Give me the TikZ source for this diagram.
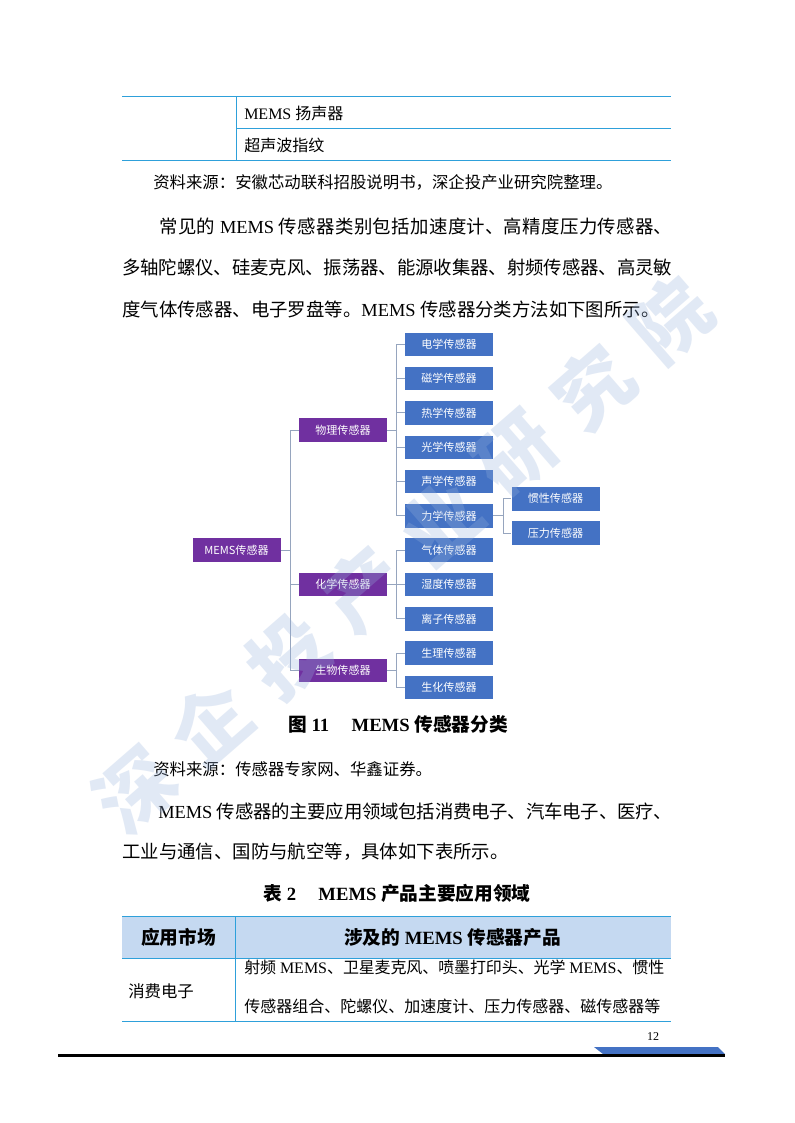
\documentclass[tikz,border=0pt]{standalone}
\usepackage{fontspec}
\setmainfont{Liberation Serif}
\newfontfamily\zhf{Noto Sans CJK SC}
\newcommand\zh[1]{{\zhf #1}}
\newlength\px
\setlength\px{0.75pt}
\newcommand\jl[2]{\parbox{#1}{\tolerance=10000\XeTeXlinebreaklocale "zh"\XeTeXlinebreakskip=0pt plus 4pt minus 1pt\parfillskip=0pt\relax #2}}
\definecolor{tblline}{RGB}{46,160,218}
\definecolor{hdrfill}{RGB}{197,217,241}
\definecolor{purp}{RGB}{112,48,160}
\definecolor{bluebox}{RGB}{68,114,196}
\definecolor{connc}{RGB}{150,165,190}
\definecolor{wm}{RGB}{150,178,220}
\definecolor{foot}{RGB}{68,114,196}
\tikzset{
  body/.style={anchor=west, inner sep=0pt, font=\fontsize{13.8}{16}\selectfont},
  small/.style={anchor=west, inner sep=0pt, font=\fontsize{12.3}{14}\selectfont},
  capt/.style={inner sep=0pt, font=\bfseries\fontsize{14}{16}\selectfont},
  pbox/.style={fill=purp, text=white, minimum width=66pt, minimum height=17.7pt, inner sep=0pt, font=\zhf\fontsize{8.3}{9}\selectfont},
  bbox/.style={fill=bluebox, text=white, minimum width=66pt, minimum height=17.7pt, inner sep=0pt, font=\zhf\fontsize{8.3}{9}\selectfont},
  conn/.style={draw=connc, line width=0.75pt},
  tline/.style={draw=tblline, line width=0.75pt},
  wmk/.style={text=wm, opacity=0.28, rotate=41, inner sep=0pt, font=\zhf\bfseries\fontsize{58}{58}\selectfont}
}
\begin{document}
\begin{tikzpicture}[x=0.75pt,y=-0.75pt]
\fill[white] (0,0) rectangle (794,1123);
\useasboundingbox (0,0) rectangle (794,1123);

% ---------- table 1 (continued) ----------
\draw[tline] (122,97) -- (670.7,97);
\draw[tline] (236,128.3) -- (670.7,128.3);
\draw[tline] (122,160.3) -- (670.7,160.3);
\draw[tline] (236,97) -- (236,160.3);
\node[small, font=\fontsize{12}{14}\selectfont] (t1a) at (244,113) {MEMS \zh{扬声器}};
\node[small, font=\fontsize{12}{14}\selectfont] (t1b) at (244,145) {\zh{超声波指纹}};
\node[small] (src1) at (153,182) {\zh{资料来源：安徽芯动联科招股说明书，深企投产业研究院整理。}};

% ---------- paragraph 1 ----------
\node[body] (p1a) at (159,226) {\jl{513\px}{\zh{常见的} MEMS \zh{传感器类别包括加速度计、高精度压力传感器、}}};
\node[body] (p1b) at (122,268) {\jl{550\px}{\zh{多轴陀螺仪、硅麦克风、振荡器、能源收集器、射频传感器、高灵敏}}};
\node[body] (p1c) at (122,309) {\zh{度气体传感器、电子罗盘等。}MEMS \zh{传感器分类方法如下图所示。}};

% ---------- diagram ----------
\node[pbox] (mems) at (236.5,550) {MEMS传感器};
\node[pbox] (phys) at (343,430.1) {物理传感器};
\node[pbox] (chem) at (343,584.5) {化学传感器};
\node[pbox] (bio) at (343,670.4) {生物传感器};
\node[bbox] (e1) at (449,344.3) {电学传感器};
\node[bbox] (e2) at (449,378.6) {磁学传感器};
\node[bbox] (e3) at (449,412.9) {热学传感器};
\node[bbox] (e4) at (449,447.3) {光学传感器};
\node[bbox] (e5) at (449,481.6) {声学传感器};
\node[bbox] (e6) at (449,515.9) {力学传感器};
\node[bbox] (c1) at (449,550.2) {气体传感器};
\node[bbox] (c2) at (449,584.5) {湿度传感器};
\node[bbox] (c3) at (449,618.9) {离子传感器};
\node[bbox] (b1) at (449,653.2) {生理传感器};
\node[bbox] (b2) at (449,687.5) {生化传感器};
\node[bbox] (m1) at (555.5,498.7) {惯性传感器};
\node[bbox] (m2) at (555.5,533.1) {压力传感器};
\foreach \c in {phys,chem,bio} \draw[conn] (mems.east) -- ++(10,0) |- (\c.west);
\foreach \c in {e1,e2,e3,e4,e5,e6} \draw[conn] (phys.east) -- ++(9,0) |- (\c.west);
\foreach \c in {c1,c2,c3} \draw[conn] (chem.east) -- ++(9,0) |- (\c.west);
\foreach \c in {b1,b2} \draw[conn] (bio.east) -- ++(9,0) |- (\c.west);
\foreach \c in {m1,m2} \draw[conn] (e6.east) -- ++(10,0) |- (\c.west);

% ---------- caption, source, paragraph 2 ----------
\node[capt] (fig) at (398,724) {\zh{图} 11\hspace{1.2em}MEMS \zh{传感器分类}};
\node[small] (src2) at (153,769) {\zh{资料来源：传感器专家网、华鑫证券。}};
\node[body] (p2a) at (158,811) {\jl{514\px}{MEMS \zh{传感器的主要应用领域包括消费电子、汽车电子、医疗、}}};
\node[body] (p2b) at (122,852) {\zh{工业与通信、国防与航空等，具体如下表所示。}};
\node[capt] (tab) at (397,893) {\zh{表} 2\hspace{1.2em}MEMS \zh{产品主要应用领域}};

% ---------- table 2 ----------
\fill[hdrfill] (122,916.7) rectangle (670.7,958.3);
\draw[tline] (122,916.7) -- (670.7,916.7);
\draw[tline] (122,958.3) -- (670.7,958.3);
\draw[tline] (122,1021.3) -- (670.7,1021.3);
\draw[tline] (235,916.7) -- (235,1021.3);
\node[capt] (h1) at (178.5,937.5) {\zh{应用市场}};
\node[capt] (h2) at (452.5,937.5) {\zh{涉及的} MEMS \zh{传感器产品}};
\node[small] (r1) at (128,991.5) {\zh{消费电子}};
\node[small, font=\fontsize{12}{14}\selectfont] (r2a) at (244,967) {\jl{420\px}{\zh{射频} MEMS\zh{、卫星麦克风、喷墨打印头、光学} MEMS\zh{、惯性}}};
\node[small, font=\fontsize{12}{14}\selectfont] (r2b) at (244,1006) {\jl{416\px}{\zh{传感器组合、陀螺仪、加速度计、压力传感器、磁传感器等}}};

% ---------- footer ----------
\fill[foot] (594,1047) -- (718,1047) -- (725,1054) -- (603,1054) -- cycle;
\draw[line width=2.6pt] (58,1055.5) -- (725,1055.5);
\node[inner sep=0pt, font=\fontsize{9}{10}\selectfont] (pg) at (653,1037) {12};

% ---------- watermark ----------
\node[wmk] (w1) at (135,790) {深};
\node[wmk] (w2) at (211,723) {企};
\node[wmk] (w3) at (288,656) {投};
\node[wmk] (w4) at (364,589) {产};
\node[wmk] (w5) at (441,522) {业};
\node[wmk] (w6) at (517,454) {研};
\node[wmk] (w7) at (593,387) {究};
\node[wmk] (w8) at (670,320) {院};
\end{tikzpicture}
\end{document}
